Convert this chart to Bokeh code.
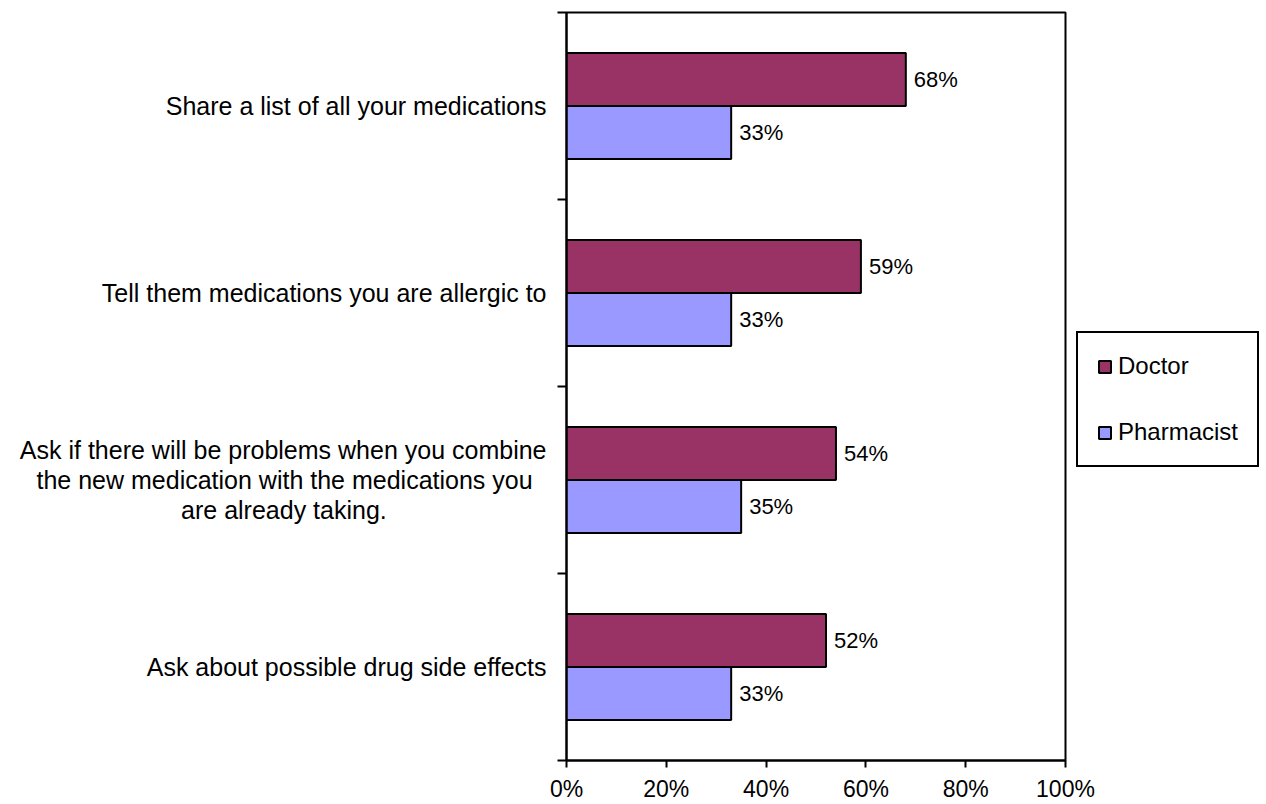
from bokeh.plotting import figure
from bokeh.models import (Range1d, FixedTicker, NumeralTickFormatter,
                          Legend, LegendItem, ColumnDataSource)
from bokeh.core.properties import value
from bokeh.embed import file_html
from bokeh.resources import INLINE

# ---- data ----
NB = "\u00a0"
categories = [
    "Share a list of all your medications",
    "Tell them medications you are allergic to",
    "Ask if there will be problems when you combine\n"
    "the new medication with the medications you" + NB * 2 + "\n"
    "are already taking." + NB * 23,
    "Ask about possible drug side effects",
]
doctor = [68, 59, 54, 52]
pharmacist = [33, 33, 35, 33]
x_ticks = [0, 20, 40, 60, 80, 100]

FONT = "Liberation Sans"
DOC_COLOR = "#993366"
PHA_COLOR = "#9999FF"
BAR_H = 0.283

n = len(categories)
centers = [n - 0.5 - i for i in range(n)]
bounds = list(range(n + 1))

p = figure(frame_width=499, frame_height=748,
           output_backend="svg", toolbar_location=None,
           x_range=Range1d(0, 1), y_range=Range1d(0, n),
           min_border_left=566, min_border_right=201,
           min_border_top=12, min_border_bottom=44)
p.background_fill_color = "white"
p.border_fill_color = "white"
p.outline_line_color = "black"
p.outline_line_width = 2
p.grid.visible = False

doc_src = ColumnDataSource(dict(
    y=[c + BAR_H / 2 for c in centers],
    right=[v / 100 for v in doctor],
    lbl=[f"{v}%" for v in doctor]))
pha_src = ColumnDataSource(dict(
    y=[c - BAR_H / 2 for c in centers],
    right=[v / 100 for v in pharmacist],
    lbl=[f"{v}%" for v in pharmacist]))

r_doc = p.hbar(y="y", right="right", left=0, height=BAR_H, source=doc_src,
               fill_color=DOC_COLOR, line_color="black", line_width=2)
r_pha = p.hbar(y="y", right="right", left=0, height=BAR_H, source=pha_src,
               fill_color=PHA_COLOR, line_color="black", line_width=2)

for src in (doc_src, pha_src):
    p.text(x="right", y="y", text="lbl", source=src, x_offset=8,
           text_baseline="middle", text_align="left",
           text_font=value(FONT), text_font_size="22px", text_color="black")

# x axis
xa = p.xaxis[0]
xa.ticker = FixedTicker(ticks=[t / 100 for t in x_ticks])
xa.formatter = NumeralTickFormatter(format="0%")
xa.major_tick_in = 0
xa.major_tick_out = 7
xa.minor_tick_line_color = None
xa.axis_line_width = 2
xa.axis_line_color = "black"
xa.major_tick_line_width = 2
xa.major_tick_line_color = "black"
xa.major_label_standoff = 8
xa.major_label_text_font = FONT
xa.major_label_text_font_size = "23px"
xa.major_label_text_color = "black"

# y axis: labels at group centres, tick marks at group boundaries
ya = p.yaxis[0]
ya.ticker = FixedTicker(ticks=centers, minor_ticks=bounds)
ya.major_label_overrides = {c: t for c, t in zip(centers, categories)}
ya.major_tick_in = 0
ya.major_tick_out = 0
ya.major_tick_line_color = None
ya.minor_tick_in = 0
ya.minor_tick_out = 9
ya.minor_tick_line_width = 2
ya.minor_tick_line_color = "black"
ya.axis_line_width = 2
ya.axis_line_color = "black"
ya.major_label_standoff = 11
ya.major_label_text_font = FONT
ya.major_label_text_font_size = "25px"
ya.major_label_text_color = "black"
ya.major_label_text_line_height = 1.08

legend = Legend(items=[LegendItem(label="Doctor", renderers=[r_doc]),
                       LegendItem(label="Pharmacist", renderers=[r_pha])],
                location=(11, 293))
legend.border_line_color = "black"
legend.border_line_alpha = 1
legend.border_line_width = 2
legend.background_fill_color = "white"
legend.background_fill_alpha = 1
legend.glyph_width = 15
legend.glyph_height = 15
legend.label_standoff = 6
legend.label_text_font = FONT
legend.label_text_font_size = "24px"
legend.label_text_color = "black"
legend.padding = 19
legend.spacing = 38
legend.margin = 0
p.add_layout(legend, "right")

open("out.html", "w").write(file_html(p, INLINE))
